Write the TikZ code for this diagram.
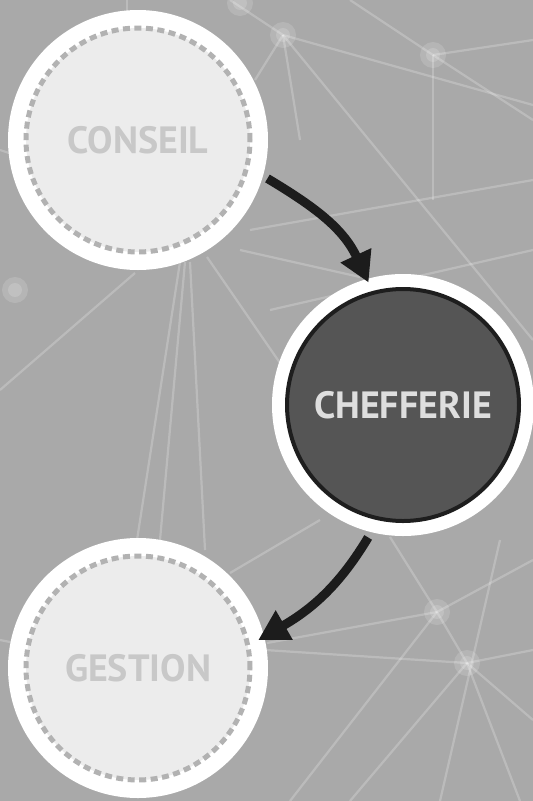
\documentclass[tikz,border=0pt]{standalone}
\usepackage{fontspec}
\setmainfont{PT Sans}
\usetikzlibrary{arrows.meta}

\definecolor{bggray}{RGB}{169,169,169}
\definecolor{sidefill}{RGB}{236,236,236}
\definecolor{dashgray}{RGB}{178,178,178}
\definecolor{sidetext}{RGB}{200,200,200}
\definecolor{mainfill}{RGB}{85,85,85}
\definecolor{mainline}{RGB}{30,30,30}
\definecolor{maintext}{RGB}{222,222,222}
\definecolor{arrowblack}{RGB}{28,28,28}

\tikzset{
  halo/.style={circle, fill=white, minimum size=260pt, inner sep=0pt},
  sidering/.style={circle, fill=sidefill, draw=dashgray, line width=5pt,
    dash pattern=on 7pt off 4.5pt, minimum size=224pt, inner sep=0pt,
    text=sidetext, font=\bfseries\fontsize{38}{40}\selectfont},
  mainring/.style={circle, fill=mainfill, draw=mainline, line width=4pt,
    minimum size=232pt, inner sep=0pt,
    text=maintext, font=\bfseries\fontsize{38}{40}\selectfont},
  netline/.style={white, opacity=0.22, line width=2.2pt},
  glow/.style={white, opacity=0.15},
  flow/.style={draw=arrowblack, line width=9pt,
    -{Triangle[length=30pt,width=32pt]}}
}

\begin{document}
\begin{tikzpicture}[x=1pt,y=1pt]
\fill[bggray] (0,0) rectangle (533,-801);
\useasboundingbox (0,0) rectangle (533,-801);

\draw[netline] (283,-35) -- (533,-105);
\draw[netline] (283,-35) -- (533,-340);
\draw[netline] (283,-35) -- (230,0);
\draw[netline] (283,-35) -- (255,-80);
\draw[netline] (283,-35) -- (300,-140);
\draw[netline] (433,-55) -- (533,-40);
\draw[netline] (433,-55) -- (350,0);
\draw[netline] (433,-55) -- (533,-120);
\draw[netline] (433,-55) -- (433,-200);
\draw[netline] (127,0) -- (127,-25);
\draw[netline] (0,-150) -- (30,-160);
\draw[netline] (250,-230) -- (533,-180);
\draw[netline] (240,-250) -- (360,-277);
\draw[netline] (0,-390) -- (135,-273);
\draw[netline] (180,-262) -- (137,-540);
\draw[netline] (190,-262) -- (205,-550);
\draw[netline] (185,-262) -- (160,-540);
\draw[netline] (207,-257) -- (280,-363);
\draw[netline] (270,-310) -- (533,-250);
\draw[netline] (437,-612) -- (390,-537);
\draw[netline] (437,-612) -- (533,-560);
\draw[netline] (437,-612) -- (267,-643);
\draw[netline] (437,-612) -- (467,-663);
\draw[netline] (437,-612) -- (290,-801);
\draw[netline] (467,-663) -- (533,-650);
\draw[netline] (467,-663) -- (533,-720);
\draw[netline] (467,-663) -- (350,-801);
\draw[netline] (467,-663) -- (520,-801);
\draw[netline] (467,-663) -- (265,-650);
\draw[netline] (230,-573) -- (320,-520);
\draw[netline] (500,-540) -- (440,-801);
\draw[netline] (0,-640) -- (25,-645);

\foreach \gx/\gy in {283/35, 433/55, 15/290, 437/612, 467/663, 240/3}{
  \fill[glow] (\gx,-\gy) circle (13);
  \fill[glow] (\gx,-\gy) circle (7);
}

\node[halo] (conseil) at (138,-140) {};
\node[sidering] (conseilring) at (conseil) {CONSEIL};
\node[halo, minimum size=262pt] (chefferie) at (403,-405) {};
\node[mainring] (chefferiering) at (chefferie) {CHEFFERIE};
\node[halo] (gestion) at (138,-668) {};
\node[sidering] (gestionring) at (gestion) {GESTION};

\draw[flow, shorten <=5pt, shorten >=-4pt] (conseil.-16) to[out=-31, in=115] (chefferie.106);
\draw[flow, shorten <=6pt, shorten >=-7pt] (chefferie.-104) to[out=-121, in=30] (gestion.14);
\end{tikzpicture}
\end{document}
